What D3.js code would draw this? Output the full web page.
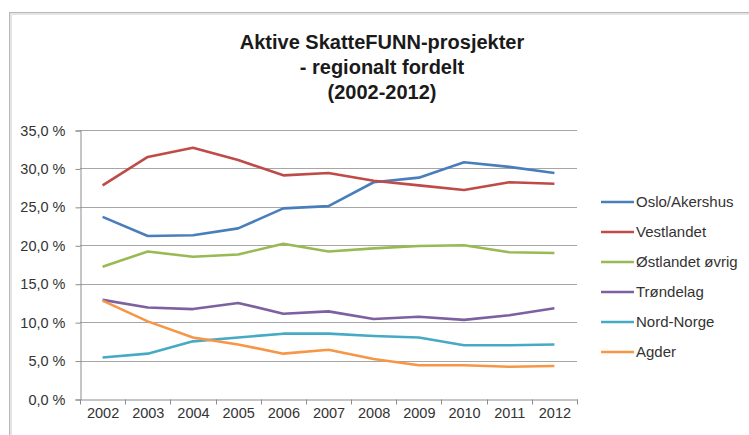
<!DOCTYPE html>
<html>
<head>
<meta charset="utf-8">
<script src="https://cdn.jsdelivr.net/npm/d3@7"></script>
<style>
  body { margin: 0; background: #fff; }
  svg { display: block; font-family: "Liberation Sans", Arial, sans-serif; }
</style>
</head>
<body>
<div id="chart"></div>
<script>
// data
const years = ["2002","2003","2004","2005","2006","2007","2008","2009","2010","2011","2012"]
const regions = ["Oslo/Akershus","Vestlandet","Østlandet øvrig","Trøndelag","Nord-Norge","Agder"]
const osloAkershus = [23.7, 21.2, 21.3, 22.2, 24.8, 25.1, 28.2, 28.8, 30.8, 30.2, 29.4]
const vestlandet   = [27.8, 31.5, 32.7, 31.1, 29.1, 29.4, 28.4, 27.8, 27.2, 28.2, 28.0]
const ostlandet    = [17.2, 19.2, 18.5, 18.8, 20.2, 19.2, 19.6, 19.9, 20.0, 19.1, 19.0]
const trondelag    = [12.9, 11.9, 11.7, 12.5, 11.1, 11.4, 10.4, 10.7, 10.3, 10.9, 11.8]
const nordNorge    = [5.4, 5.9, 7.5, 8.0, 8.5, 8.5, 8.2, 8.0, 7.0, 7.0, 7.1]
const agder        = [12.8, 10.1, 8.0, 7.1, 5.9, 6.4, 5.2, 4.4, 4.4, 4.2, 4.3]
const yTicks = [0, 5, 10, 15, 20, 25, 30, 35]
const colors = ["#4A7EBB", "#BE4B48", "#98B954", "#7D60A0", "#46AAC5", "#F79646"]

const series = [osloAkershus, vestlandet, ostlandet, trondelag, nordNorge, agder]
  .map((values, i) => ({ name: regions[i], color: colors[i], values: values }))

var width = 749,
    height = 435

var svg = d3.select("#chart")
  .append("svg")
    .attr("width", width)
    .attr("height", height)

// chart frame (only top/left edges fall inside the picture)
svg.append("rect")
  .attr("x", 10.5).attr("y", 13.5)
  .attr("width", width + 20).attr("height", height + 20)
  .attr("fill", "none")
  .attr("stroke", "#e4e4e4")
  .attr("stroke-width", 3)
svg.append("rect")
  .attr("x", 9.5).attr("y", 12.5)
  .attr("width", width + 20).attr("height", height + 20)
  .attr("fill", "none")
  .attr("stroke", "#b8b8b8")

// title
var title = svg.append("text")
  .attr("x", 382)
  .attr("text-anchor", "middle")
  .style("font-size", "20px")
  .style("font-weight", "bold")
  .attr("fill", "#1a1a1a")
;["Aktive SkatteFUNN-prosjekter", "- regionalt fordelt", "(2002-2012)"].forEach((t, i) => {
  title.append("tspan").attr("x", 382).attr("y", 49 + i * 25).text(t)
})

// scales
var x = d3.scaleBand().domain(years).range([80, 577])
var y = d3.scaleLinear().domain([0, 35]).range([399, 130])

// gridlines
svg.append("g")
  .selectAll("line")
  .data(yTicks.slice(1))
  .enter()
  .append("line")
    .attr("x1", 80).attr("x2", 577)
    .attr("y1", d => Math.round(y(d)) + 0.5)
    .attr("y2", d => Math.round(y(d)) + 0.5)
    .attr("stroke", "#a6a6a6")

// y axis
var yAxis = svg.append("g")
  .attr("transform", "translate(80.5,0.5)")
  .call(d3.axisLeft(y).tickValues(yTicks).tickSize(5).tickPadding(10)
    .tickFormat(d => d3.format(".1f")(d).replace(".", ",") + " %"))
yAxis.select(".domain").attr("stroke", "#8c8c8c")
yAxis.selectAll(".tick line").attr("stroke", "#8c8c8c")
yAxis.selectAll("text").style("font-size", "14.5px").attr("fill", "#333")
  .attr("font-family", "Liberation Sans, Arial, sans-serif")

// x axis with ticks between categories
var xAxis = svg.append("g")
  .attr("transform", "translate(0.5," + (Math.round(y(0)) + 0.5) + ")")
  .call(d3.axisBottom(x).tickSize(0).tickPadding(8))
xAxis.select(".domain").attr("stroke", "#8c8c8c")
xAxis.selectAll("text").style("font-size", "14.5px").attr("fill", "#333")
  .attr("font-family", "Liberation Sans, Arial, sans-serif")
xAxis.selectAll(".sep")
  .data(years.concat(["end"]))
  .enter()
  .append("line")
    .attr("x1", (d, i) => Math.round(80 + i * x.step()))
    .attr("x2", (d, i) => Math.round(80 + i * x.step()))
    .attr("y1", 0).attr("y2", 5)
    .attr("stroke", "#8c8c8c")

// lines
var line = d3.line()
  .x((d, i) => x(years[i]) + x.bandwidth() / 2)
  .y(d => y(d))

svg.selectAll(".series")
  .data(series)
  .enter()
  .append("path")
    .attr("d", d => line(d.values))
    .attr("fill", "none")
    .attr("stroke", d => d.color)
    .attr("stroke-width", 2.6)
    .attr("stroke-linejoin", "round")

// legend
var legend = svg.selectAll(".legend")
  .data(series)
  .enter()
  .append("g")
    .attr("transform", (d, i) => "translate(601," + (202 + i * 30) + ")")
legend.append("line")
  .attr("x1", 0).attr("x2", 33)
  .attr("stroke", d => d.color)
  .attr("stroke-width", 2.6)
legend.append("text")
  .attr("x", 35)
  .attr("dy", "0.35em")
  .style("font-size", "15px")
  .attr("fill", "#333")
  .text(d => d.name)
</script>
</body>
</html>
